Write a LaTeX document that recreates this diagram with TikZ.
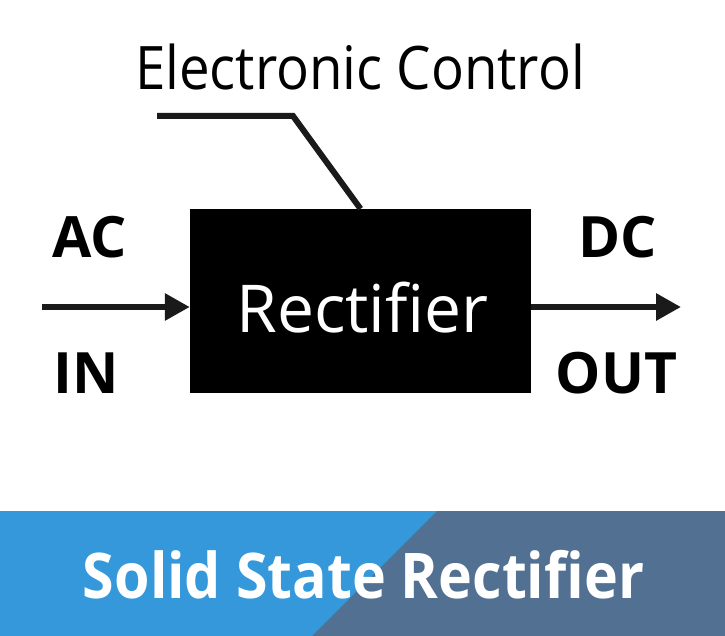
\documentclass[tikz,border=0pt]{standalone}
\usepackage{fontspec}
\setmainfont{Open Sans}
\newfontfamily\narrowfont[FakeStretch=0.91]{Open Sans}
\usetikzlibrary{arrows.meta}
\definecolor{wireblack}{HTML}{1A1A1A}
\definecolor{bannerblue}{HTML}{3498DB}
\definecolor{bannerslate}{HTML}{517092}

\begin{document}
\begin{tikzpicture}[x=1pt,y=-1pt,
    wire/.style={line width=6pt,draw=wireblack},
    flow/.style={wire,-{Triangle[length=25pt,width=26pt]}},
    tag/.style={anchor=base,inner sep=0pt,font=\fontsize{57}{60}\selectfont\bfseries},
    caption/.style={anchor=base,inner sep=0pt,font=\fontsize{60}{66}\selectfont}]
    \useasboundingbox (0,0) rectangle (725,636);

    % Draw the rectifier block
    \node[fill=black,minimum width=341pt,minimum height=184pt,inner sep=0pt] (rect) at (360.5,301) {};
    \node[caption,text=white,font=\fontsize{66}{70}\selectfont] (rectlabel) at (362.5,332) {Rectifier};

    % Draw the control line
    \node[caption,font=\fontsize{60}{66}\narrowfont] (ctrl) at (360,90) {Electronic Control};
    \coordinate (ctrlend) at (157,116);
    \draw[wire] (ctrlend) -- (293,116) -- (rect.north);

    % Draw input and output arrows
    \coordinate (acin) at (42,307);
    \coordinate (dcout) at (681,307);
    \draw[flow] (acin) -- (rect.west |- acin);
    \draw[flow] (rect.east |- dcout) -- (dcout);

    % Draw side labels
    \node[tag] (ac) at (89.5,258) {AC};
    \node[tag] (in) at (86.5,393) {IN};
    \node[tag] (dc) at (617.5,258) {DC};
    \node[tag] (out) at (616.5,393) {OUT};

    % Draw the banner
    \fill[bannerblue] (0,511) rectangle (725,636);
    \fill[bannerslate] (437,511) -- (725,511) -- (725,636) -- (312,636) -- cycle;
    \node[tag,text=white,font=\fontsize{63}{66}\narrowfont\bfseries] (title) at (363.5,598) {Solid State Rectifier};
\end{tikzpicture}
\end{document}
